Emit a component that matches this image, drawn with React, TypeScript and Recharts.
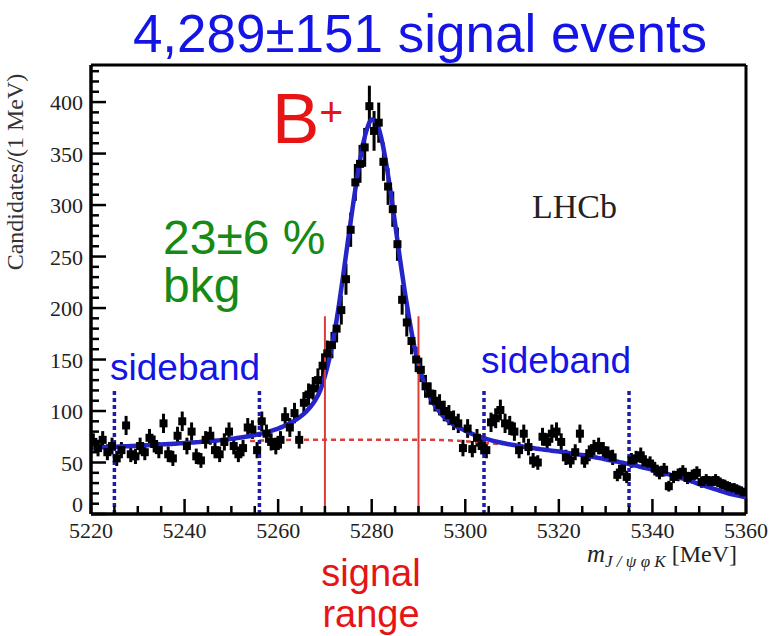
import React from "react";
import {
  ComposedChart,
  Scatter,
  Line,
  XAxis,
  YAxis,
  ErrorBar,
  ReferenceLine,
} from "recharts";

// candidates per 1 MeV bin, first bin starts at 5220 MeV
const firstBin = 5220;
const candidates = [
  70, 64, 72, 60, 66, 54, 62, 86, 58, 56,
  66, 60, 74, 68, 62, 88, 58, 54, 76, 90,
  66, 80, 56, 52, 72, 76, 62, 58, 70, 80,
  66, 58, 64, 84, 82, 62, 90, 78, 70, 66,
  72, 94, 84, 98, 72, 108, 116, 122, 130, 144,
  156, 164, 180, 198, 228, 276, 322, 340, 356, 396,
  372, 380, 342, 318, 296, 262, 208, 186, 168, 150,
  140, 124, 117, 110, 106, 100, 96, 91, 88, 64,
  83, 63, 74, 66, 62, 89, 93, 101, 88, 86,
  80, 62, 78, 65, 52, 50, 75, 70, 78, 80,
  70, 55, 52, 60, 78, 52, 59, 64, 66, 62,
  58, 55, 38, 44, 36, 52, 54, 57, 50, 49,
  44, 40, 43, 27, 36, 38, 41, 35, 37, 40,
  31, 33, 31, 33, 30, 28, 26, 25, 23, 21,
];

// total fit, one value per MeV from 5220 to 5360
const fitTotal = [
  64.3, 64.5, 64.7, 64.9, 65.1, 65.3, 65.5, 65.7, 65.9, 66.1,
  66.4, 66.6, 66.8, 67.0, 67.3, 67.5, 67.8, 68.0, 68.3, 68.6,
  68.9, 69.2, 69.5, 69.8, 70.2, 70.6, 71.0, 71.4, 71.9, 72.4,
  73.0, 73.6, 74.3, 75.0, 75.8, 76.7, 77.7, 78.8, 80.0, 81.4,
  83.0, 84.8, 86.9, 89.4, 92.2, 95.5, 99.5, 104.5, 111, 120,
  134, 152, 175, 203, 235, 268, 300, 330, 356, 374,
  383, 380, 366, 343, 314, 282, 249, 218, 190, 165,
  145, 130, 118, 109, 102, 96.5, 92, 88.5, 85.5, 83,
  81, 78.8, 76.9, 75.2, 73.6, 72.2, 71.0, 69.9, 68.9, 68.0,
  67.2, 66.4, 65.7, 65.0, 64.3, 63.7, 63.0, 62.4, 61.8, 61.2,
  60.6, 60.0, 59.3, 58.6, 57.9, 57.2, 56.4, 55.6, 54.8, 54.0,
  53.1, 52.2, 51.3, 50.4, 49.4, 48.4, 47.4, 46.3, 45.2, 44.1,
  42.9, 41.7, 40.4, 39.1, 37.8, 36.4, 35.0, 33.6, 32.1, 30.6,
  29.1, 27.6, 26.1, 24.6, 23.1, 21.7, 20.4, 19.2, 18.1, 17.1,
  16.2,
];

// background component under the peak, from 5254 to 5308 MeV
const bkgStart = 5254;
const bkgCurve = [
  70.8, 71.0, 71.2, 71.4, 71.5, 71.6, 71.7, 71.8, 71.9, 72,
  72, 72, 72, 72, 72, 72, 72, 72, 72, 72,
  72, 72, 72, 72, 72, 72, 72, 72, 72, 72,
  72, 72, 72, 72, 72, 72, 72, 72, 72, 72,
  72, 71.8, 71.6, 71.4, 71.2, 70.9, 70.6, 70.3, 70.0, 69.6,
  69.2, 68.8, 68.4, 68.0, 67.6,
];

const sidebandEdges = [5225, 5256, 5304, 5335];
const sidebandTop = 122;
const signalEdges = [5270, 5290];
const signalTop = 192;

const xTicks = [
  5220, 5225, 5230, 5235, 5240, 5245, 5250, 5255, 5260, 5265, 5270, 5275,
  5280, 5285, 5290, 5295, 5300, 5305, 5310, 5315, 5320, 5325, 5330, 5335,
  5340, 5345, 5350, 5355, 5360,
];
const yTicks = [
  0, 10, 20, 30, 40, 50, 60, 70, 80, 90, 100, 110, 120, 130, 140, 150, 160,
  170, 180, 190, 200, 210, 220, 230, 240, 250, 260, 270, 280, 290, 300, 310,
  320, 330, 340, 350, 360, 370, 380, 390, 400, 410, 420, 430,
];

const points = candidates.map((v, i) => ({
  x: firstBin + i + 0.5,
  y: v,
  err: Math.sqrt(v),
}));
const fitRows = fitTotal.map((v, i) => ({ x: firstBin + i, fit: v }));
const bkgRows = bkgCurve.map((v, i) => ({ x: bkgStart + i, bkg: v }));

const serif = "'Liberation Serif', 'Times New Roman', serif";
const sans = "'Liberation Sans', Arial, sans-serif";

const XTick = (props: any) => {
  const { x, y, payload } = props;
  const major = payload.value % 20 === 0;
  return (
    <g>
      <line x1={x} x2={x} y1={y} y2={y - (major ? 15 : 8)} stroke="#000" strokeWidth={2.5} />
      {major && (
        <text x={x} y={y + 24} textAnchor="middle" fontFamily={serif} fontSize={22} fill="#222">
          {payload.value}
        </text>
      )}
    </g>
  );
};

const YTick = (props: any) => {
  const { x, y, payload } = props;
  const major = payload.value % 50 === 0;
  return (
    <g>
      <line x1={x} x2={x + (major ? 15 : 8)} y1={y} y2={y} stroke="#000" strokeWidth={2.5} />
      {major && (
        <text
          x={x - 8}
          y={payload.value === 0 ? y - 2 : y + 8}
          textAnchor="end"
          fontFamily={serif}
          fontSize={22}
          fill="#222"
        >
          {payload.value}
        </text>
      )}
    </g>
  );
};

const Square = (props: any) => {
  const { cx, cy } = props;
  return <rect x={cx - 4} y={cy - 4} width={8} height={8} fill="#000" />;
};

const App: React.FC = () => {
  return (
    <div style={{ position: "absolute", left: 0, top: 0, width: 774, height: 636, background: "#fff" }}>
      <ComposedChart
        width={774}
        height={636}
        data={fitRows}
        margin={{ top: 65, right: 28, bottom: 92, left: 11 }}
      >
        <XAxis
          dataKey="x"
          type="number"
          domain={[5220, 5360]}
          ticks={xTicks}
          interval={0}
          tickSize={0}
          tickMargin={0}
          tickLine={false}
          tick={<XTick />}
          height={30}
          axisLine={{ stroke: "#000", strokeWidth: 3.5 }}
          allowDataOverflow
        />
        <YAxis
          type="number"
          domain={[0, 436]}
          ticks={yTicks}
          interval={0}
          tickSize={0}
          tickMargin={0}
          tickLine={false}
          tick={<YTick />}
          width={80}
          axisLine={{ stroke: "#000", strokeWidth: 3.5 }}
          allowDataOverflow
        />
        <ReferenceLine y={436} stroke="#000" strokeWidth={3} />
        <ReferenceLine x={5360} stroke="#000" strokeWidth={3} />
        <Scatter data={points} dataKey="y" shape={<Square />} isAnimationActive={false}>
          <ErrorBar dataKey="err" direction="y" width={0} stroke="#000" strokeWidth={3} />
        </Scatter>
        <Line
          data={bkgRows}
          dataKey="bkg"
          type="monotone"
          stroke="#d8403c"
          strokeWidth={2.5}
          strokeDasharray="5 4"
          dot={false}
          isAnimationActive={false}
        />
        <Line
          dataKey="fit"
          type="monotone"
          stroke="#2424c8"
          strokeWidth={4.5}
          dot={false}
          isAnimationActive={false}
        />
        {sidebandEdges.map((e) => (
          <ReferenceLine
            key={"sb" + e}
            segment={[{ x: e, y: 0 }, { x: e, y: sidebandTop }]}
            stroke="#1c1ca8"
            strokeWidth={3.5}
            strokeDasharray="4 3"
          />
        ))}
        {signalEdges.map((e) => (
          <ReferenceLine
            key={"sig" + e}
            segment={[{ x: e, y: 0 }, { x: e, y: signalTop }]}
            stroke="#e03a36"
            strokeWidth={2}
          />
        ))}
      </ComposedChart>
      <svg
        width={774}
        height={636}
        style={{ position: "absolute", left: 0, top: 0, pointerEvents: "none" }}
      >
        <text x={420} y={52} textAnchor="middle" fontFamily={sans} fontSize={53} fill="#1414e6">
          4,289±151 signal events
        </text>
        <text x={272} y={143} fontFamily={sans} fontSize={71} fill="#e61414">
          B
          <tspan fontSize={41} dy={-17}>+</tspan>
        </text>
        <text x={163} y={254} fontFamily={sans} fontSize={48} fill="#168a16">
          23±6 %
        </text>
        <text x={163} y={302} fontFamily={sans} fontSize={48} fill="#168a16">
          bkg
        </text>
        <text x={532} y={218} fontFamily={serif} fontSize={34} fill="#222">
          LHCb
        </text>
        <text x={110} y={380} fontFamily={sans} fontSize={37} fill="#1414e6">
          sideband
        </text>
        <text x={481} y={373} fontFamily={sans} fontSize={37} fill="#1414e6">
          sideband
        </text>
        <text x={371} y={586} textAnchor="middle" fontFamily={sans} fontSize={38} fill="#e61414">
          signal
        </text>
        <text x={371} y={627} textAnchor="middle" fontFamily={sans} fontSize={38} fill="#e61414">
          range
        </text>
        <text x={587} y={562} fontFamily={serif} fill="#222">
          <tspan fontSize={25} fontStyle="italic">m</tspan>
          <tspan fontSize={17} fontStyle="italic" dy={5}>J / ψ φ K</tspan>
          <tspan fontSize={24} dy={-5}> [MeV]</tspan>
        </text>
        <text
          x={23}
          y={172}
          transform="rotate(-90 23 172)"
          textAnchor="middle"
          fontFamily={serif}
          fontSize={24}
          fill="#333"
        >
          Candidates/(1 MeV)
        </text>
      </svg>
    </div>
  );
};

export default App;
